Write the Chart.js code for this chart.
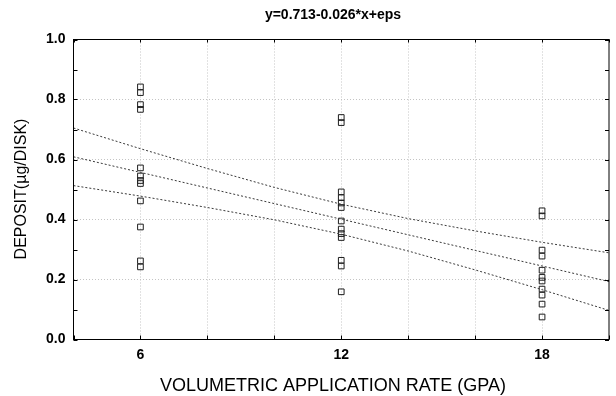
<!DOCTYPE html>
<html>
<head>
<meta charset="utf-8">
<script src="https://cdn.jsdelivr.net/npm/chart.js@4.4.1/dist/chart.umd.min.js"></script>
<style>
  html, body { margin: 0; padding: 0; background: #fff; }
  #wrap { width: 616px; height: 396px; }
</style>
</head>
<body>
<div id="wrap"><canvas id="chart"></canvas></div>
<script>
// Texts
const chartTitle = 'y=0.713-0.026*x+eps';
const xTitle = 'VOLUMETRIC APPLICATION RATE (GPA)';
const yTitle = 'DEPOSIT(µg/DISK)';

// Deposit readings at each application rate (GPA)
const rates = [6, 12, 18];
const deposit6 = [0.842, 0.823, 0.783, 0.767, 0.572, 0.545, 0.53, 0.52, 0.462, 0.375, 0.262, 0.242];
const deposit12 = [0.74, 0.723, 0.492, 0.473, 0.455, 0.44, 0.395, 0.368, 0.353, 0.34, 0.264, 0.245, 0.159];
const deposit18 = [0.429, 0.412, 0.298, 0.278, 0.231, 0.207, 0.195, 0.168, 0.148, 0.118, 0.075];

const lineX = [4, 6, 8, 10, 12, 14, 16, 18, 20];
const fitLine = [0.609, 0.557, 0.505, 0.453, 0.401, 0.349, 0.297, 0.245, 0.193];
const upperBand = [0.705, 0.636, 0.570, 0.507, 0.451, 0.403, 0.362, 0.324, 0.289];
const lowerBand = [0.513, 0.478, 0.440, 0.399, 0.351, 0.295, 0.232, 0.166, 0.097];

// Axis tick labels
const xLabels = [6, 12, 18];
const yLabels = [0, 0.2, 0.4, 0.6, 0.8, 1.0];

const gridGray = '#c4c4c4';
const inkColor = '#000';

function toPoints(xs, ys) {
  return xs.map((x, i) => ({ x: x, y: ys[i] }));
}

const depositSets = [deposit6, deposit12, deposit18];
const scatterPoints = [];
rates.forEach((r, i) => {
  depositSets[i].forEach(v => scatterPoints.push({ x: r, y: v }));
});

function isLabel(list, value) {
  return list.some(l => Math.abs(l - value) < 1e-6);
}

function lineSet(data) {
  return {
    type: 'line',
    data: toPoints(lineX, data),
    borderColor: '#3a3a3a',
    borderWidth: 1,
    borderDash: [2, 2],
    pointRadius: 0,
    fill: false,
    tension: 0
  };
}

// frame, inner tick marks and titles
const framePlugin = {
  id: 'frame',
  afterDraw(chart) {
    const { ctx, chartArea: a, scales } = chart;
    ctx.save();
    ctx.strokeStyle = inkColor;
    ctx.lineWidth = 1;
    ctx.strokeRect(a.left, a.top, a.right - a.left, a.bottom - a.top);

    ctx.beginPath();
    scales.y.ticks.forEach(t => {
      const y = Math.round(scales.y.getPixelForValue(t.value)) + 0.5;
      ctx.moveTo(a.left, y); ctx.lineTo(a.left + 4, y);
      ctx.moveTo(a.right - 4, y); ctx.lineTo(a.right, y);
    });
    scales.x.ticks.forEach(t => {
      const x = Math.round(scales.x.getPixelForValue(t.value)) + 0.5;
      ctx.moveTo(x, a.bottom); ctx.lineTo(x, a.bottom - 4);
      ctx.moveTo(x, a.top); ctx.lineTo(x, a.top + 3);
    });
    ctx.stroke();

    ctx.fillStyle = inkColor;
    ctx.textAlign = 'center';
    ctx.textBaseline = 'middle';
    ctx.font = 'bold 14px "Liberation Sans", Arial, sans-serif';
    ctx.fillText(chartTitle, 333, 15.5);
    ctx.font = '18px "Liberation Sans", Arial, sans-serif';
    ctx.fillText(xTitle, 333, 386);
    ctx.translate(22, 189);
    ctx.rotate(-Math.PI / 2);
    ctx.font = '16px "Liberation Sans", Arial, sans-serif';
    ctx.fillText(yTitle, 0, 0);
    ctx.restore();
  }
};

const chart = new Chart(document.getElementById('chart'), {
  type: 'scatter',
  data: {
    datasets: [
      lineSet(upperBand),
      lineSet(fitLine),
      lineSet(lowerBand),
      {
        data: scatterPoints,
        pointStyle: 'rect',
        pointRadius: 4,
        pointHoverRadius: 4,
        borderColor: '#1e1e1e',
        borderWidth: 1,
        backgroundColor: 'rgba(255,255,255,0)'
      }
    ]
  },
  options: {
    responsive: true,
    maintainAspectRatio: false,
    animation: false,
    layout: { padding: { top: 39.5, right: 2.5, left: 0, bottom: 0 } },
    plugins: {
      legend: { display: false },
      tooltip: { enabled: false },
      title: { display: false }
    },
    scales: {
      x: {
        type: 'linear',
        min: 4,
        max: 20,
        afterFit(scale) { scale.height = 56.5; },
        ticks: {
          stepSize: 2,
          autoSkip: false,
          maxRotation: 0,
          padding: 7,
          color: inkColor,
          font: { family: '"Liberation Sans", Arial, sans-serif', size: 14, weight: 'bold' },
          callback: v => isLabel(xLabels, v) ? String(v) : ''
        },
        grid: {
          drawTicks: false,
          color: ctx => (ctx.tick && ctx.tick.value > 4 && ctx.tick.value < 20) ? gridGray : 'rgba(0,0,0,0)'
        },
        border: { display: false, dash: [1, 2] }
      },
      y: {
        min: 0,
        max: 1,
        afterFit(scale) { scale.width = 73.5; },
        ticks: {
          stepSize: 0.1,
          autoSkip: false,
          padding: 8,
          color: inkColor,
          font: { family: '"Liberation Sans", Arial, sans-serif', size: 14, weight: 'bold' },
          callback: v => isLabel(yLabels, v) ? v.toFixed(1) : ''
        },
        grid: {
          drawTicks: false,
          color: ctx => (ctx.tick && isLabel(yLabels, ctx.tick.value) && ctx.tick.value > 0 && ctx.tick.value < 1) ? gridGray : 'rgba(0,0,0,0)'
        },
        border: { display: false, dash: [1, 2] }
      }
    }
  },
  plugins: [framePlugin]
});
</script>
</body>
</html>
